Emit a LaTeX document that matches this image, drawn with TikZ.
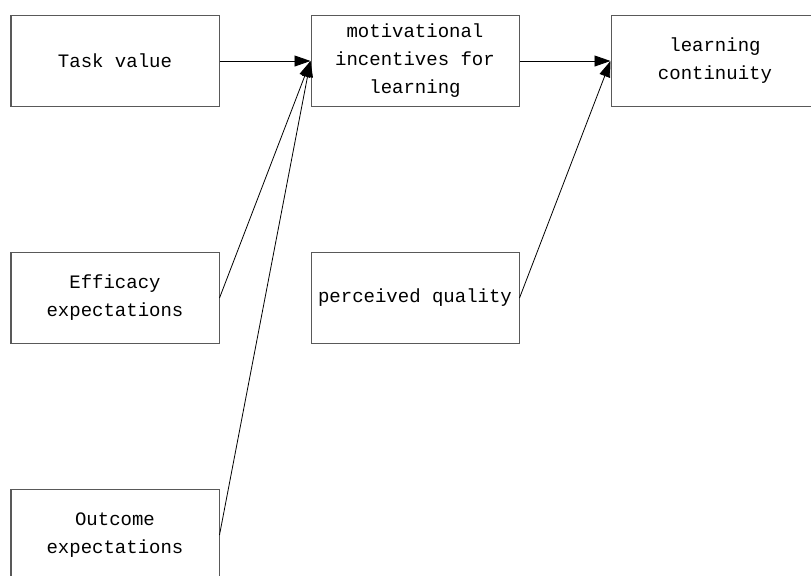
\documentclass[tikz,border=0pt]{standalone}
\usepackage{fontspec}
\setmonofont{Liberation Mono}
\usetikzlibrary{positioning,arrows.meta}

\begin{document}
\begin{tikzpicture}[x=0.5pt,y=-0.5pt,
    box/.style = {draw=black!65, line width=0.5pt, minimum width=104pt, minimum height=45.5pt,
        align=center, inner sep=2pt, font=\ttfamily\fontsize{9.5}{14}\selectfont},
    arr/.style = {-{Triangle[length=8pt,width=5.5pt]}, line width=0.4pt}]
            \useasboundingbox (0,0) rectangle (811,575);
            \node[box] (task) at (115,61) {Task value};
            \node[box] (motiv) [right=45.5pt of task] {motivational\\incentives for\\learning};
            \node[box] (cont) [right=45.5pt of motiv] {learning\\continuity};
            \node[box] (eff) [below=72.5pt of task] {Efficacy\\expectations};
            \node[box] (qual) [right=45.5pt of eff] {perceived quality};
            \node[box] (out) [below=72.5pt of eff] {Outcome\\expectations};
            \draw[arr] (task) -- (motiv);
                \draw[arr] (eff.east) -- (motiv.west);
                \draw[arr] (out.east) -- (motiv.west);
                \draw[arr] (motiv) -- (cont);
                \draw[arr] (qual.east) -- (cont.west);
        \end{tikzpicture}
\end{document}
